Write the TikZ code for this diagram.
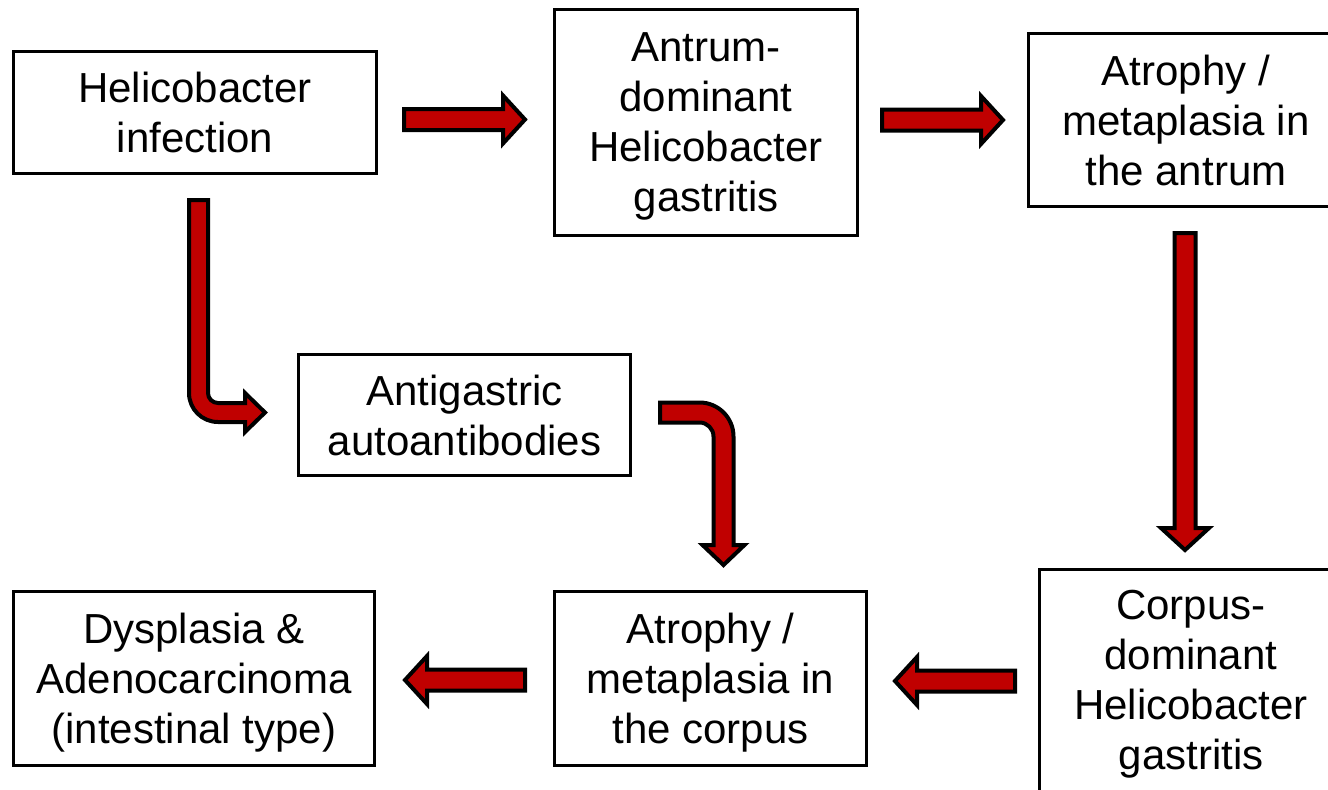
\documentclass[tikz,border=0pt]{standalone}
\usepackage{fontspec}
\setmainfont{Liberation Sans}
\usetikzlibrary{calc}
\definecolor{arrowred}{RGB}{192,0,0}
\begin{document}
\begin{tikzpicture}[x=0.75pt,y=0.75pt,
  box/.style={draw=black, line width=2.25pt, fill=white, rectangle, inner sep=0pt,
    align=center, font=\fontsize{31.5pt}{37.5pt}\selectfont},
  boxsize/.style 2 args={minimum width=#1*0.75pt, minimum height=#2*0.75pt},
  % centre the lines on the last baseline, ignoring descenders
  nodepth/.style={text depth=0pt},
  redshape/.style={draw=black, fill=arrowred, line width=3pt, line join=miter},
  % straight block arrow drawn from the start coordinate to the tip
  blockarrow/.style={redshape,
    to path={
      ($(\tikztostart)!7.875pt!90:(\tikztotarget)$)
      -- ($(\tikztotarget)!16.5pt!(\tikztostart)!7.875pt!90:(\tikztotarget)$)
      -- ($(\tikztotarget)!16.5pt!(\tikztostart)!18pt!90:(\tikztotarget)$)
      -- (\tikztotarget)
      -- ($(\tikztotarget)!16.5pt!(\tikztostart)!18pt!-90:(\tikztotarget)$)
      -- ($(\tikztotarget)!16.5pt!(\tikztostart)!7.875pt!-90:(\tikztotarget)$)
      -- ($(\tikztostart)!7.875pt!-90:(\tikztotarget)$)
      -- cycle}}]
\useasboundingbox (0,0) rectangle (1328,-789);
\clip (0,0) rectangle (1328,-789);

% boxes
\node[box, boxsize={363}{122}] (infect) at (195,-112.5)
  {Helicobacter\\infection};
\node[box, nodepth, boxsize={303}{226}] (antdom) at (706,-122.5)
  {Antrum-\\dominant\\Helicobacter\\gastritis};
\node[box, boxsize={315}{173}] (antatr) at (1186,-120)
  {Atrophy /\\metaplasia in\\the antrum};
\node[box, boxsize={332}{121}] (autoab) at (464.5,-415)
  {Antigastric\\autoantibodies};
\node[box, nodepth, boxsize={361}{174}] (dysp) at (194,-678.5)
  {Dysplasia \&\\Adenocarcinoma\\(intestinal type)};
\node[box, nodepth, boxsize={312}{174}] (coratr) at (710.5,-678.5)
  {Atrophy /\\metaplasia in\\the corpus};
\node[box, boxsize={304}{229}] (cordom) at (1191,-684)
  {Corpus-\\dominant\\Helicobacter\\gastritis};

% straight arrow end points
\coordinate (a1s) at (404,-119.5);  \coordinate (a1e) at (525,-119.5);
\coordinate (a2s) at (882,-120);    \coordinate (a2e) at (1003,-120);
\coordinate (a3s) at (1185,-233);   \coordinate (a3e) at (1185,-550);
\coordinate (a4s) at (1015,-681);   \coordinate (a4e) at (895,-681);
\coordinate (a5s) at (525,-680);    \coordinate (a5e) at (405,-680);

\draw[blockarrow] (a1s) to (a1e);
\draw[blockarrow] (a2s) to (a2e);
\draw[blockarrow] (a3s) to (a3e);
\draw[blockarrow] (a4s) to (a4e);
\draw[blockarrow] (a5s) to (a5e);

% bent arrow: infection down and right to the autoantibodies
\draw[redshape] (189,-200) -- (189,-393) arc[start angle=180, end angle=270, radius=29]
  -- (245,-422) -- (245,-432) -- (265,-412.5) -- (245,-393) -- (245,-403)
  -- (218,-403) arc[start angle=270, end angle=180, radius=10]
  -- (208,-200) -- cycle;

% bent arrow: autoantibodies right and down to the corpus atrophy
\draw[redshape] (660,-402.5) -- (699.5,-402.5) arc[start angle=90, end angle=0, radius=34]
  -- (733.5,-545) -- (744.5,-545) -- (723.5,-565) -- (702.5,-545) -- (713.5,-545)
  -- (713.5,-436.5) arc[start angle=0, end angle=90, radius=14]
  -- (660,-422.5) -- cycle;
\end{tikzpicture}
\end{document}
